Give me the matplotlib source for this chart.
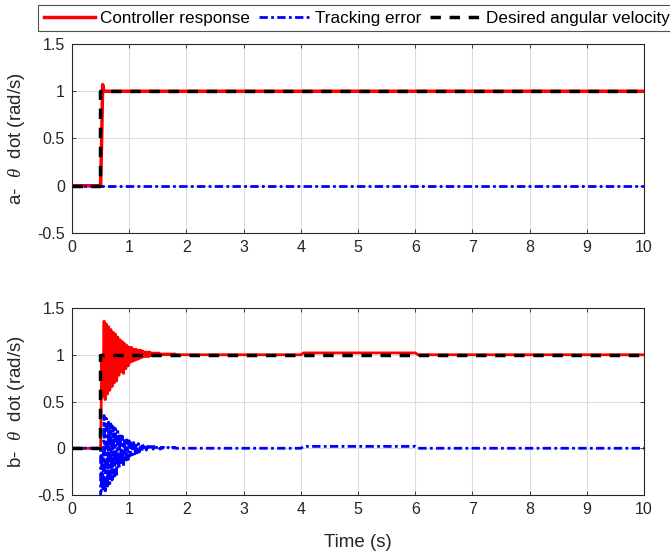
import numpy as np
import matplotlib
matplotlib.use("Agg")
import matplotlib.pyplot as plt

plt.rcParams['font.family'] = ['Liberation Sans', 'DejaVu Sans']
plt.rcParams['mathtext.fontset'] = 'custom'
plt.rcParams['mathtext.it'] = 'Liberation Serif:italic'

# ---- panel a ----
t_resp_a = [0, 0.50, 0.52, 0.535, 0.56, 10]
resp_a = [0, 0, 0.55, 1.07, 1.0, 1.0]
t_des = [0, 0.49, 0.49, 10]
des = [0, 0, 1, 1]
t_err_a = [0, 10]
err_a = [0, 0]

# ---- panel b ----
t_pre = [0, 0.50]
resp_pre = [0, 0]
err_pre = [0, 0]
# oscillating part, sampled every 0.02 s from 0.50 s to 2.00 s
resp_osc = [0.00, 0.95, 0.55, 1.36, 0.52, 1.33, 0.58, 1.30, 0.62, 1.27,
             0.66, 1.24, 0.70, 1.22, 0.72, 1.19, 0.78, 1.16, 0.82, 1.14,
             0.80, 1.12, 0.85, 1.10, 0.88, 1.08, 0.92, 1.08, 0.93, 1.06,
             0.94, 1.06, 0.95, 1.05, 0.96, 1.05, 0.97, 1.04, 0.98, 1.03,
             0.98, 1.03, 0.98, 1.03, 0.99, 1.02, 0.99, 1.02, 0.99, 1.02,
             0.99, 1.02, 0.99, 1.01, 1.00, 1.01, 1.00, 1.01, 1.00, 1.01,
             1.00, 1.01, 1.00, 1.01, 1.00, 1.01, 1.00, 1.00, 1.00, 1.00,
             1.00, 1.00, 1.00, 1.00, 1.00, 1.00]
err_osc = [-1.00, -0.05, -0.45, 0.35, -0.48, 0.32, -0.42, 0.28, -0.38, 0.26,
            -0.34, 0.23, -0.30, 0.21, -0.28, 0.18, -0.22, 0.15, -0.18, 0.13,
            -0.20, 0.11, -0.15, 0.09, -0.12, 0.08, -0.08, 0.07, -0.07, 0.06,
            -0.06, 0.05, -0.05, 0.05, -0.04, 0.04, -0.03, 0.03, -0.02, 0.03,
            -0.02, 0.02, -0.02, 0.02, -0.01, 0.02, -0.01, 0.02, -0.01, 0.01,
            -0.01, 0.01, -0.01, 0.01, 0.00, 0.01, 0.00, 0.01, 0.00, 0.01,
            0.00, 0.01, 0.00, 0.01, 0.00, 0.01, 0.00, 0.00, 0.00, 0.00,
            0.00, 0.00, 0.00, 0.00, 0.00, 0.00]
t_osc = np.linspace(0.50, 2.00, len(resp_osc))
t_post = [2.0, 4.0, 4.05, 6.0, 6.05, 10]
resp_post = [1.0, 1.0, 1.02, 1.02, 1.0, 1.0]
err_post = [0.0, 0.0, 0.02, 0.02, 0.0, 0.0]

t_b = np.concatenate([t_pre, t_osc, t_post])
resp_b = np.concatenate([resp_pre, resp_osc, resp_post])
err_b = np.concatenate([err_pre, err_osc, err_post])

fig = plt.figure(figsize=(6.70, 5.54), dpi=100)
ax1 = fig.add_axes([0.1075, 0.5794, 0.8537, 0.3412])
ax2 = fig.add_axes([0.1075, 0.1065, 0.8537, 0.3375])

dashdot = (0, (3, 1.2, 1, 1.2))
dashed = (0, (3, 2.5))

for ax in (ax1, ax2):
    ax.set_xlim(0, 10)
    ax.set_ylim(-0.5, 1.5)
    ax.set_xticks(range(0, 11))
    ax.set_yticks([-0.5, 0, 0.5, 1, 1.5])
    ax.set_yticklabels(['-0.5', '0', '0.5', '1', '1.5'])
    ax.grid(True, color='#dcdcdc', linewidth=0.8)
    ax.set_axisbelow(True)
    ax.tick_params(direction='in', length=3, top=True, right=True,
                   labelsize=11.5, colors='#262626', width=0.6, pad=5)
    for s in ax.spines.values():
        s.set_color('#262626')
        s.set_linewidth(0.8)

l1, = ax1.plot(t_resp_a, resp_a, color='red', lw=2.5)
l2, = ax1.plot(t_err_a, err_a, color='blue', lw=2, linestyle=dashdot)
l3, = ax1.plot(t_des, des, color='black', lw=2.5, linestyle=dashed)

ax2.plot(t_b, resp_b, color='red', lw=2)
ax2.plot(t_b, err_b, color='blue', lw=2, linestyle=dashdot)
ax2.plot(t_des, des, color='black', lw=2.5, linestyle=dashed)

ax1.set_ylabel(r'a-  $\theta$  dot (rad/s)', fontsize=13.5, color='#262626')
ax2.set_ylabel(r'b-  $\theta$  dot (rad/s)', fontsize=13.5, color='#262626')
ax1.yaxis.set_label_coords(-0.078, 0.5)
ax2.yaxis.set_label_coords(-0.078, 0.5)
ax2.set_xlabel('Time (s)', fontsize=13.5, color='#262626')
ax2.xaxis.set_label_coords(0.5, -0.21)

leg = fig.legend([l1, l2, l3],
                 ['Controller response', 'Tracking error', 'Desired angular velocity'],
                 loc='center', bbox_to_anchor=(0.533, 0.9675), ncol=3,
                 fontsize=12.3, frameon=True, fancybox=False, handlelength=3.0,
                 handletextpad=0.3, columnspacing=0.5, borderpad=0.35,
                 borderaxespad=0)
leg.get_frame().set_edgecolor('#262626')
leg.get_frame().set_linewidth(0.8)

fig.savefig('out.png', dpi=100)
